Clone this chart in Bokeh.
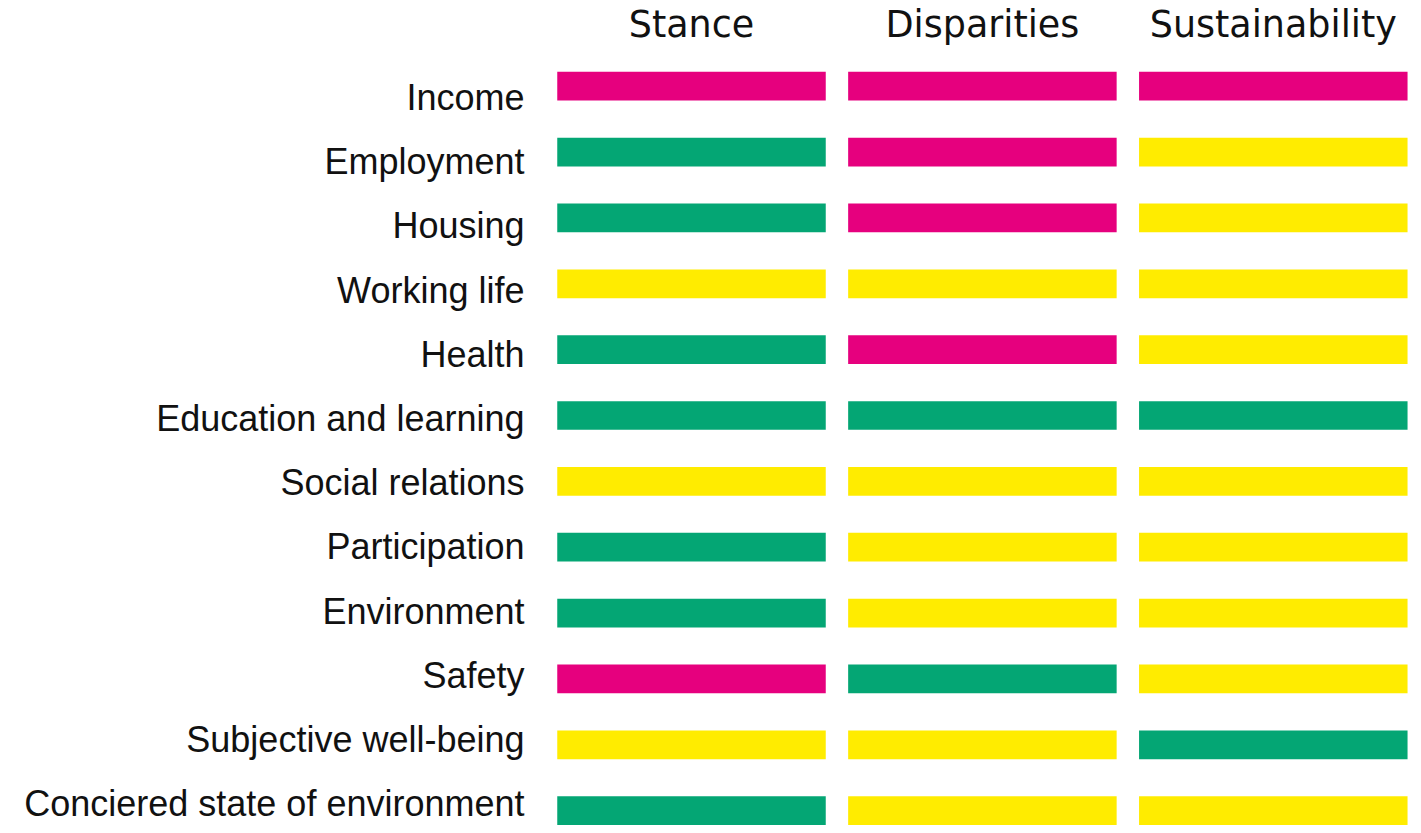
from bokeh.plotting import figure
from bokeh.models import ColumnDataSource, Range1d
from bokeh.core.properties import value
from bokeh.embed import file_html
from bokeh.resources import INLINE

# ---- data ----
categories = [
    "Income", "Employment", "Housing", "Working life", "Health",
    "Education and learning", "Social relations", "Participation",
    "Environment", "Safety", "Subjective well-being",
    "Conciered state of environment",
]
columns = ["Stance", "Disparities", "Sustainability"]
stance = ["red", "green", "green", "yellow", "green", "green",
          "yellow", "green", "green", "red", "yellow", "green"]
disparities = ["red", "red", "red", "yellow", "red", "green",
               "yellow", "yellow", "yellow", "green", "yellow", "yellow"]
sustainability = ["red", "yellow", "yellow", "yellow", "yellow", "green",
                  "yellow", "yellow", "yellow", "yellow", "green", "yellow"]
series = [stance, disparities, sustainability]

palette = {"red": "#E6007E", "green": "#04A674", "yellow": "#FFEC00"}

# ---- layout (pixels in the figure) ----
W, H = 1413, 825
col_step = 290.9          # px between column centres
row_step = 65.86          # px between row centres
col0 = 691.0              # px centre of first column
row0 = 85.7               # px centre of first row (from top)
bar_w = 268.5
bar_h = 28.7

x_start = -col0 / col_step
x_end = x_start + W / col_step
y_top = -row0 / row_step
y_bottom = (H - row0) / row_step

p = figure(width=W, height=H, output_backend="svg", toolbar_location=None,
           x_range=Range1d(x_start, x_end), y_range=Range1d(y_bottom, y_top),
           min_border=0, outline_line_color=None)
p.axis.visible = False
p.grid.visible = False
p.background_fill_color = "white"
p.border_fill_color = "white"

xs, ys, cs = [], [], []
for j, ser in enumerate(series):
    for i, s in enumerate(ser):
        xs.append(j)
        ys.append(i)
        cs.append(palette[s])
src = ColumnDataSource(dict(x=xs, y=ys, c=cs))
p.rect(x="x", y="y", width=bar_w / col_step, height=bar_h / row_step,
       fill_color="c", line_color=None, source=src)

# row labels
lab_base = 97.0           # px, first label
lab_step = 64.2           # px between labels
lab_src = ColumnDataSource(dict(
    x=[(524 - col0) / col_step] * len(categories),
    y=[(lab_base - row0 + i * lab_step) / row_step for i in range(len(categories))],
    t=categories))
p.text(x="x", y="y", text="t", source=lab_src, text_align="right",
       text_baseline="alphabetic", text_font=value("Liberation Sans"),
       text_font_size="36px", text_color="#111111")

# column headers
hdr_src = ColumnDataSource(dict(
    x=list(range(len(columns))),
    y=[(23.6 - row0) / row_step] * len(columns),
    t=columns))
p.text(x="x", y="y", text="t", source=hdr_src, text_align="center",
       text_baseline="alphabetic", text_font=value("DejaVu Sans"),
       text_font_size="36.5px", text_color="#111111")

open("out.html", "w").write(file_html(p, INLINE))
